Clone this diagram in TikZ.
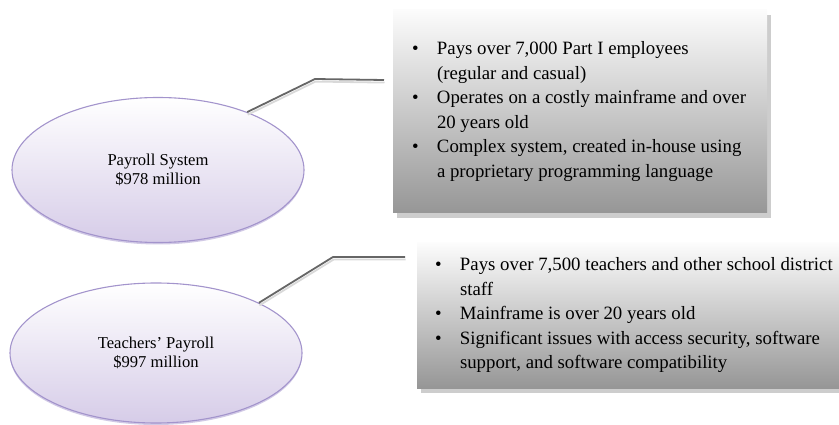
\documentclass[tikz,border=0pt]{standalone}
\usepackage{fontspec}
\setmainfont{Liberation Serif}
\usetikzlibrary{shapes.geometric,shadows}

\definecolor{ovalline}{RGB}{163,148,204}
\definecolor{ovalbot}{RGB}{214,204,232}
\definecolor{boxtop}{RGB}{252,252,252}
\definecolor{boxbot}{RGB}{150,150,150}
\definecolor{boxshade}{RGB}{205,205,205}

\newcommand{\bul}{\makebox[25pt][l]{\textbullet}}
\newcommand{\cont}{\hspace*{25pt}}

\tikzset{
  oval/.style={ellipse, draw=ovalline, line width=1.1pt, top color=white,
    bottom color=ovalbot, minimum width=292pt, align=center,
    font=\fontsize{16.6}{18.8}\selectfont,
    drop shadow={shadow xshift=0pt, shadow yshift=-2pt, fill=ovalline, opacity=0.5}},
  notebox/.style={rectangle, top color=boxtop, bottom color=boxbot,
    drop shadow={shadow xshift=4pt, shadow yshift=-5pt, fill=boxshade, opacity=1}},
  notetext/.style={anchor=west, inner sep=0pt, align=left,
    font=\fontsize{18.8}{24.5}\selectfont},
  lead/.style={draw=black!60, line width=1.8pt},
  leadshade/.style={draw=black!15, line width=1.8pt,
    transform canvas={xshift=0.5pt, yshift=-2.6pt}}
}

\begin{document}
\begin{tikzpicture}[x = 1pt, y = -1pt]
    \useasboundingbox (0,0) rectangle (839,425);

    % systems
    \node[oval, minimum height=145pt] (pay) at (158,170) {Payroll System\\\$978 million};
    \node[oval, minimum height=140pt] (tpay) at (156,353) {Teachers' Payroll\\\$997 million};

    % notes
    \node[notebox, minimum width=374pt, minimum height=203pt] (paynote) at (580,111.5) {};
    \node[notetext] (paytext) at ([xshift=19pt]paynote.west) {%
        \bul Pays over 7,000 Part I employees\\
        \cont (regular and casual)\\
        \bul Operates on a costly mainframe and over\\
        \cont 20 years old\\
        \bul Complex system, created in-house using\\
        \cont a proprietary programming language};
    \node[notebox, minimum width=424pt, minimum height=145pt] (tpaynote) at (629,315.5) {};
    \node[notetext] (tpaytext) at ([xshift=18pt]tpaynote.west) {%
        \bul Pays over 7,500 teachers and other school district\\
        \cont staff\\
        \bul Mainframe is over 20 years old\\
        \bul Significant issues with access security, software\\
        \cont support, and software compatibility};

    % leads
    \coordinate (payb) at (315,79);
    \coordinate (paye) at (384,80);
    \coordinate (tpayb) at (333,257);
    \coordinate (tpaye) at (405,257);
    \draw[leadshade] (pay.33) -- (payb) -- (paye);
    \draw[lead] (pay.33) -- (payb) -- (paye);
    \draw[leadshade] (tpay.26) -- (tpayb) -- (tpaye);
    \draw[lead] (tpay.26) -- (tpayb) -- (tpaye);
\end{tikzpicture}
\end{document}
